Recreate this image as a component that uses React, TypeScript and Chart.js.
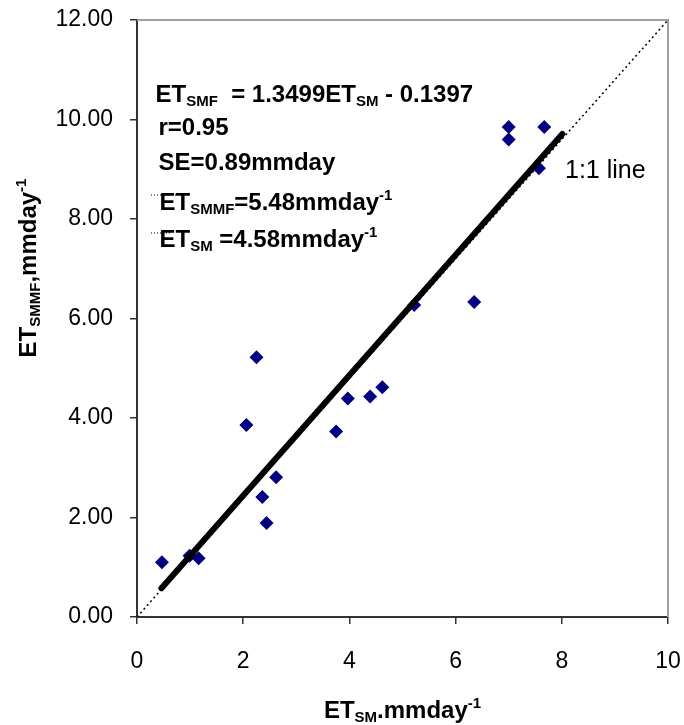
import React, { useEffect, useRef } from "react";
import { Chart, registerables } from "chart.js";

Chart.register(...registerables);

// Scatter data: ET_SM (x) vs ET_SMMF (y), mm/day
const etSM = [0.47, 0.99, 1.16, 2.06, 2.25, 2.36, 2.44, 2.62, 3.75, 3.97, 4.39, 4.62, 5.22, 6.35, 7.0, 7.0, 7.57, 7.67];
const etSMMF = [1.1, 1.23, 1.18, 3.86, 5.22, 2.41, 1.89, 2.81, 3.73, 4.39, 4.43, 4.62, 6.27, 6.33, 9.85, 9.6, 9.02, 9.85];

// Fitted line (as drawn) and 1:1 reference line endpoints
const fitX = [0.46, 8.01];
const fitY = [0.58, 9.71];
const refX = [0, 10];
const refY = [0, 12];

// Axis ranges / ticks
const xMin = 0, xMax = 10, xStep = 2;
const yMin = 0, yMax = 12, yStep = 2;

type Seg = { t: string; k: "n" | "sub" | "sup" };
const annotationLines: Seg[][] = [
  [{ t: "ET", k: "n" }, { t: "SMF", k: "sub" }, { t: "  = 1.3499ET", k: "n" }, { t: "SM", k: "sub" }, { t: " - 0.1397", k: "n" }],
  [{ t: "r=0.95", k: "n" }],
  [{ t: "SE=0.89mmday", k: "n" }],
  [{ t: "ET", k: "n" }, { t: "SMMF", k: "sub" }, { t: "=5.48mmday", k: "n" }, { t: "-1", k: "sup" }],
  [{ t: "ET", k: "n" }, { t: "SM", k: "sub" }, { t: " =4.58mmday", k: "n" }, { t: "-1", k: "sup" }],
];
const xTitle: Seg[] = [{ t: "ET", k: "n" }, { t: "SM", k: "sub" }, { t: ".mmday", k: "n" }, { t: "-1", k: "sup" }];
const yTitle: Seg[] = [{ t: "ET", k: "n" }, { t: "SMMF", k: "sub" }, { t: ",mmday", k: "n" }, { t: "-1", k: "sup" }];
const refLabel = "1:1 line";

const FAMILY = '"Liberation Sans", Arial, sans-serif';

function drawRich(ctx: CanvasRenderingContext2D, segs: Seg[], x: number, y: number, size: number, align: "left" | "center") {
  const sub = Math.round(size * 0.62);
  const fontFor = (k: string) => `bold ${k === "n" ? size : sub}px ${FAMILY}`;
  let total = 0;
  for (const s of segs) {
    ctx.font = fontFor(s.k);
    total += ctx.measureText(s.t).width;
  }
  let cx = align === "center" ? x - total / 2 : x;
  ctx.textAlign = "left";
  ctx.textBaseline = "alphabetic";
  for (const s of segs) {
    ctx.font = fontFor(s.k);
    const dy = s.k === "sub" ? size * 0.17 : s.k === "sup" ? -size * 0.42 : 0;
    ctx.fillText(s.t, cx, y + dy);
    cx += ctx.measureText(s.t).width;
  }
}

const decor = {
  id: "decor",
  beforeDatasetsDraw(chart: any) {
    const { ctx, chartArea: ca } = chart;
    ctx.save();
    ctx.strokeStyle = "#a0a0a0";
    ctx.lineWidth = 2;
    ctx.beginPath();
    ctx.moveTo(ca.left, ca.top);
    ctx.lineTo(ca.right, ca.top);
    ctx.lineTo(ca.right, ca.bottom);
    ctx.stroke();
    ctx.restore();
  },
  afterDatasetsDraw(chart: any) {
    const { ctx, chartArea: ca, scales } = chart;
    ctx.save();
    ctx.fillStyle = "#000";
    const baselines = [81.7, 115, 150, 190, 226.7];
    const lefts = [18.5, 21.5, 21.5, 22.5, 22.5];
    annotationLines.forEach((segs, i) => {
      drawRich(ctx, segs, ca.left + lefts[i], ca.top + baselines[i], 24, "left");
    });
    // small dotted leaders
    ctx.strokeStyle = "#000";
    ctx.lineWidth = 1;
    ctx.setLineDash([1, 2]);
    ctx.beginPath();
    ctx.moveTo(ca.left + 14, ca.top + 175);
    ctx.lineTo(ca.left + 40, ca.top + 175);
    ctx.moveTo(ca.left + 14, ca.top + 213);
    ctx.lineTo(ca.left + 33, ca.top + 213);
    ctx.stroke();
    ctx.setLineDash([]);
    // 1:1 line label
    ctx.font = `25px ${FAMILY}`;
    ctx.textAlign = "left";
    ctx.textBaseline = "alphabetic";
    ctx.fillText(refLabel, scales.x.getPixelForValue(8.06), scales.y.getPixelForValue(8.83));
    // axis titles
    drawRich(ctx, xTitle, (ca.left + ca.right) / 2, chart.height - 7, 24, "center");
    ctx.translate(36, 268);
    ctx.rotate(-Math.PI / 2);
    drawRich(ctx, yTitle, 0, 0, 24, "center");
    ctx.restore();
  },
};

export default function App() {
  const ref = useRef<HTMLCanvasElement | null>(null);
  useEffect(() => {
    if (!ref.current) return;
    const tickFont = { family: FAMILY, size: 23 };
    const chart = new Chart(ref.current, {
      type: "scatter",
      data: {
        datasets: [
          {
            type: "line",
            data: fitX.map((x, i) => ({ x, y: fitY[i] })),
            borderColor: "#000",
            borderWidth: 6,
            borderCapStyle: "round",
            pointRadius: 0,
            order: 0,
          } as any,
          {
            type: "scatter",
            data: etSM.map((x, i) => ({ x, y: etSMMF[i] })),
            pointStyle: "rectRot",
            pointRadius: 7,
            backgroundColor: "#000080",
            borderColor: "#000080",
            borderWidth: 0,
            order: 1,
          },
          {
            type: "line",
            data: refX.map((x, i) => ({ x, y: refY[i] })),
            borderColor: "#000",
            borderWidth: 1.5,
            borderDash: [2, 3],
            pointRadius: 0,
            order: 2,
          } as any,
        ],
      },
      options: {
        animation: false,
        responsive: false,
        layout: { padding: { top: 20, right: 16, left: 0, bottom: 0 } },
        plugins: { legend: { display: false }, tooltip: { enabled: false } },
        scales: {
          x: {
            type: "linear",
            min: xMin,
            max: xMax,
            ticks: { stepSize: xStep, font: tickFont, color: "#000", padding: 24, maxRotation: 0 },
            grid: { drawOnChartArea: false, drawTicks: true, tickLength: 7, color: "#333", lineWidth: 1.5 },
            border: { color: "#333", width: 2 },
            afterFit: (s: any) => { s.height = 108; s.paddingLeft = 0; s.paddingRight = 0; },
          },
          y: {
            type: "linear",
            min: yMin,
            max: yMax,
            ticks: { stepSize: yStep, font: tickFont, color: "#000", padding: 17, callback: (v: any) => Number(v).toFixed(2) },
            grid: { drawOnChartArea: false, drawTicks: true, tickLength: 7, color: "#333", lineWidth: 1.5 },
            border: { color: "#333", width: 2 },
            afterFit: (s: any) => { s.width = 137; s.paddingTop = 0; s.paddingBottom = 0; },
          },
        },
      } as any,
      plugins: [decor],
    });
    return () => chart.destroy();
  }, []);
  return (
    <div style={{ position: "fixed", left: 0, top: 0, width: 684, height: 725, background: "#fff" }}>
      <canvas ref={ref} width={684} height={725} style={{ display: "block" }} />
    </div>
  );
}
